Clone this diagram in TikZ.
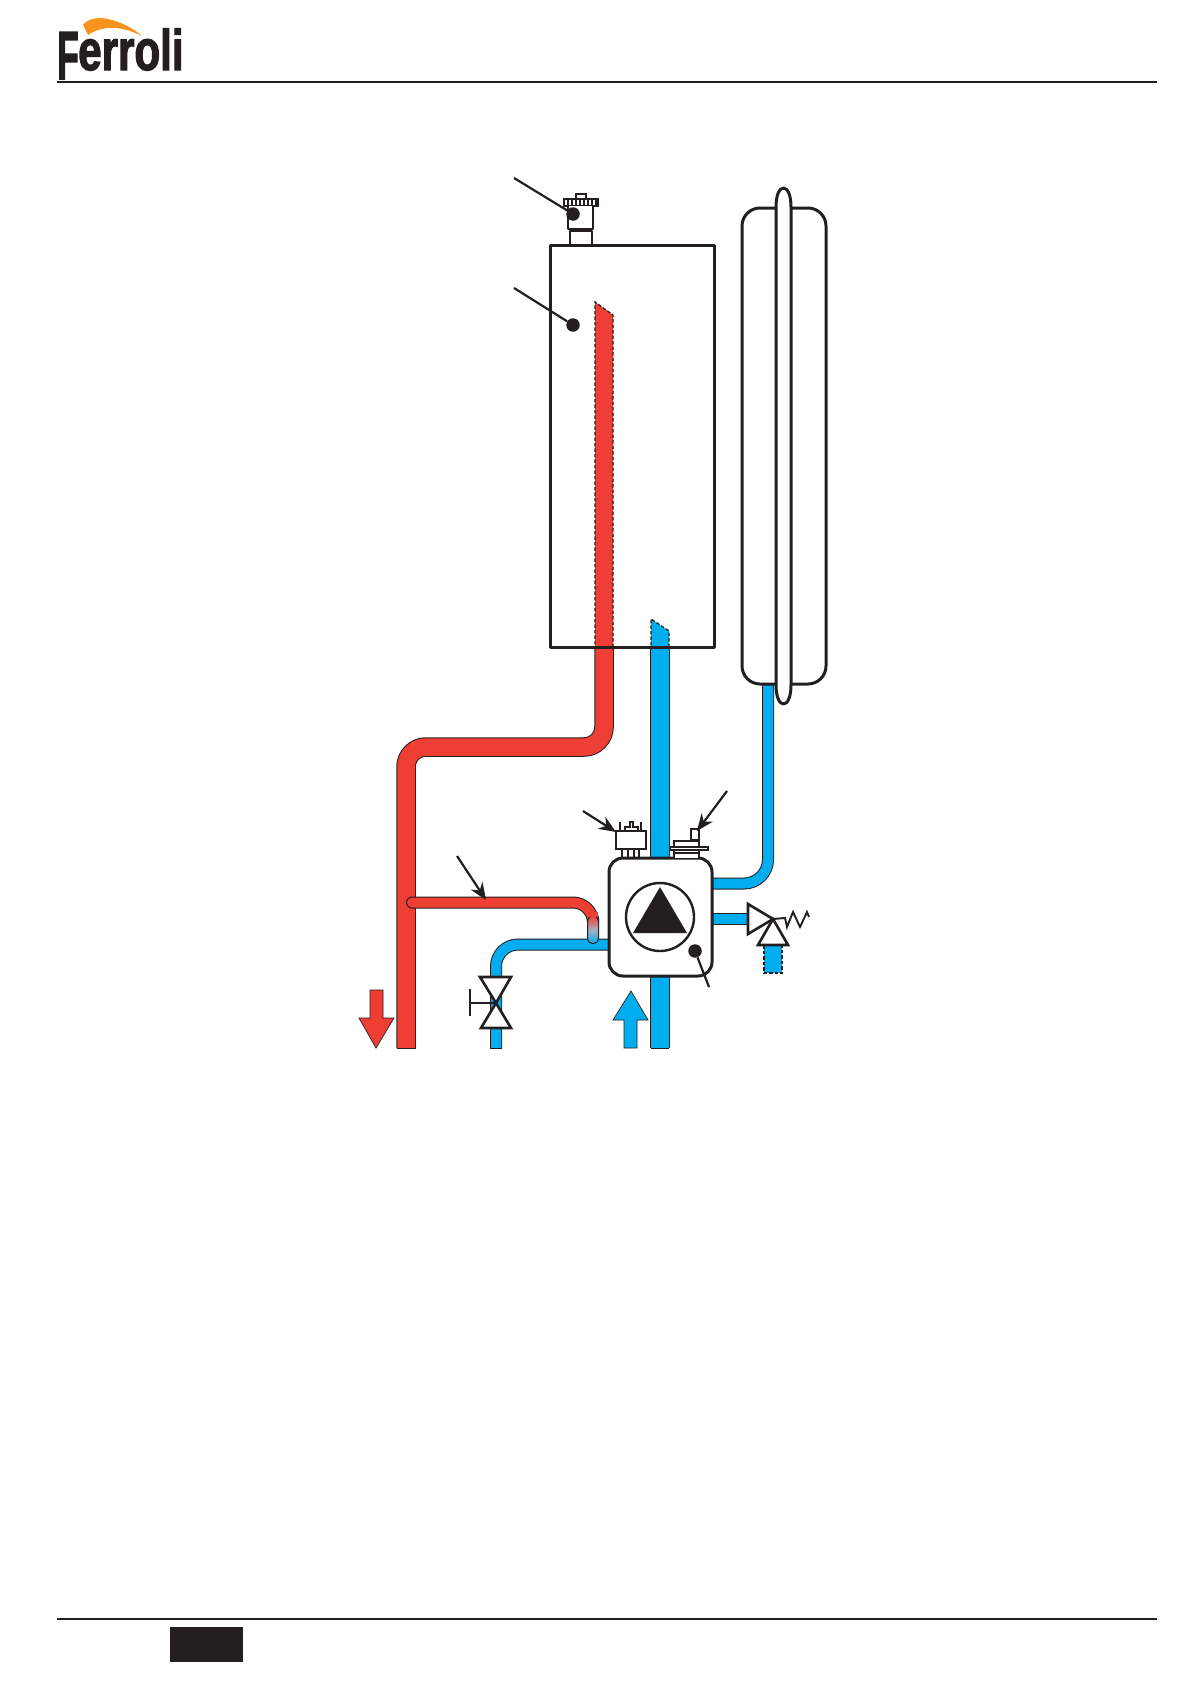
\documentclass[tikz,border=0pt]{standalone}
\usepackage{fontspec}
\setmainfont{Liberation Sans}
\newfontfamily\logofont[BoldFeatures={FakeBold=2.5}]{Liberation Sans}
\usetikzlibrary{arrows.meta}
\definecolor{ink}{HTML}{231F20}
\definecolor{hotred}{HTML}{EF3E33}
\definecolor{coldblue}{HTML}{00AEEF}
\definecolor{logoorange}{HTML}{F7941D}
\tikzset{
  x=1pt,y=-1pt,
  outline/.style={draw=ink,line width=3pt,line join=round},
  thin part/.style={draw=ink,line width=1.3pt},
  rule/.style={draw=ink,line width=2pt},
  hotpipe/.style={draw=ink,line width=1pt,double=hotred},
  coldpipe/.style={draw=ink,line width=1pt,double=coldblue},
  pipeend/.style={draw=ink,line width=1pt},
  dashedge/.style={draw=ink,line width=1.3pt,dash pattern=on 3.5pt off 2pt},
  dotmark/.style={circle,fill=ink,draw=none,minimum size=13.5pt,inner sep=0pt},
  leader/.style={draw=ink,line width=2.2pt},
  callout/.style={draw=ink,line width=2.2pt,-{Stealth[length=17pt,width=14pt]}},
  logotext/.style={inner sep=0pt,text=ink,font=\logofont\bfseries},
  valveshape/.style={draw=ink,fill=white,line width=2.6pt,line join=miter}
}
\begin{document}
\begin{tikzpicture}
\path[use as bounding box,fill=white] (0,0) rectangle (1191,1684);

% --- header / footer
\draw[rule] (57,81.5) -- (1157,81.5);
\draw[rule] (57,1619) -- (1157,1619);
\fill[ink] (170,1627) rectangle (243,1662);
\node[logotext,anchor=base west] (logoF) at (57,79)
  {\scalebox{.52}[1]{\fontsize{68}{68}\selectfont F}};
\node[logotext,anchor=base west] (logoRest) at (78,70)
  {\scalebox{.74}[1]{\fontsize{57}{57}\selectfont erroli}};
\fill[logoorange] (83,25) .. controls (88,18) and (100,17) .. (108,19)
  .. controls (122,22) and (134,29) .. (142,36)
  .. controls (130,30) and (118,27) .. (108,28)
  .. controls (100,29) and (93,31) .. (88,35) -- cycle;

% --- hot main pipe
\fill[hotred] (595,302) -- (613,315) -- (613,647) -- (595,647) -- cycle;
\draw[dashedge] (613,647) -- (613,315) -- (595,302) -- (595,647);
\draw[hotpipe,double distance=17.5pt,rounded corners=20pt]
  (604,647) -- (604,747) -- (406,747) -- (406,1048);
\draw[pipeend] (397,1048) -- (415.5,1048);

% --- cold main pipe
\fill[coldblue] (651,619) -- (669,631) -- (669,647) -- (651,647) -- cycle;
\draw[dashedge] (669,647) -- (669,631) -- (651,619) -- (651,647);
\draw[coldpipe,double distance=17.5pt] (660,647) -- (660,1048);
\draw[pipeend] (651,1048) -- (669,1048);

% --- vessel feed pipe
\draw[coldpipe,double distance=10pt,rounded corners=24pt]
  (768,684) -- (768,883.5) -- (712,883.5);

% --- cold branch to valve
\draw[coldpipe,double distance=10pt,rounded corners=22pt]
  (609,944.5) -- (496,944.5) -- (496,1048);
\draw[pipeend] (490,1048) -- (502,1048);

% --- safety valve outlet pipe
\draw[coldpipe,double distance=10pt] (712,918.5) -- (748,918.5);

% --- hot branch, fading into the cold pipe
\draw[hotpipe,double distance=10pt,line cap=round,rounded corners=20pt]
  (412,902.5) -- (593,902.5) -- (593,918);
\shade[top color=hotred,bottom color=coldblue,middle color=hotred!45!coldblue!60!white,
  draw=ink,line width=1pt,rounded corners=5pt]
  (587.5,916) -- (587.5,943.5) -- (598.5,943.5) -- (598.5,916) -- cycle;
\fill[hotred] (588,912) rectangle (598,917);

% --- boiler
\draw[outline] (550,245) rectangle (714,647);

% --- air vent
\draw[thin part,line width=1.8pt,fill=white] (576,199) -- (576,194) -- (586,194) -- (586,199);
\draw[thin part,line width=1.8pt,fill=white] (564,199) rectangle (598,206);
\foreach \tickx in {568,572,576,580,584,588,592,596}
  \draw[thin part] (\tickx,199) -- (\tickx,206);
\draw[outline,line width=2.2pt,fill=white] (568,206) -- (568,229) -- (593,229) -- (593,206);
\draw[outline,line width=2.2pt,fill=white] (570,231) rectangle (592,245);
\node[dotmark] (ventdot) at (573,214) {};
\coordinate (ventfree) at (514,178);
\draw[leader] (ventfree) -- (ventdot);

\node[dotmark] (boilerdot) at (573,325) {};
\coordinate (boilerfree) at (514,288);
\draw[leader] (boilerfree) -- (boilerdot);

% --- expansion vessel
\draw[outline,rounded corners=18pt] (742,208) rectangle (826,684);
\draw[outline,fill=white] (776,685) -- (776,207)
  .. controls (776,196) and (779,188) .. (783.5,188)
  .. controls (788,188) and (791,196) .. (791,207)
  -- (791,685)
  .. controls (791,696) and (788,704) .. (783.5,704)
  .. controls (779,704) and (776,696) .. (776,685) -- cycle;

% --- pump
\draw[outline,fill=white,rounded corners=14pt] (609,858) rectangle (712,976);
\node[circle,draw=ink,line width=2.4pt,minimum size=68pt,inner sep=0pt] (pumpcircle) at (660,917) {};
\fill[ink] (660,887) -- (687,933) -- (633,933) -- cycle;
\node[dotmark] (pumpdot) at (695,951) {};
\coordinate (pumpfree) at (709,987);
\draw[leader] (pumpfree) -- (pumpdot);

% --- pressure switch (left device)
\draw[thin part,fill=white] (616,831) rectangle (646,849);
\draw[thin part] (620,822) -- (620,831) (641,822) -- (641,831);
\draw[thin part] (625,831) -- (625,827) -- (630,827) -- (630,822) -- (633,822) -- (633,827) -- (638,827) -- (638,831);
\draw[thin part] (622,849) -- (622,858) (628,849) -- (628,858) (634,849) -- (634,858) (639,849) -- (639,858);
\coordinate (switchfree) at (583,811);
\coordinate (switchtip) at (616,832);
\draw[callout] (switchfree) -- (switchtip);

% --- gauge (right device)
\draw[thin part,fill=white] (674,858) -- (674,841) -- (699,841) -- (699,858);
\draw[thin part,fill=white] (670,847) rectangle (708,850);
\draw[thin part] (674,853) -- (699,853);
\draw[thin part,fill=white] (691,829) rectangle (699,840);
\coordinate (gaugefree) at (727,791);
\coordinate (gaugetip) at (697,831);
\draw[callout] (gaugefree) -- (gaugetip);

% --- hot branch callout
\coordinate (branchfree) at (457,856);
\coordinate (branchtip) at (486,900);
\draw[callout] (branchfree) -- (branchtip);

% --- isolating valve
\draw[valveshape] (480,977) -- (511,977) -- (496,1003) -- cycle;
\draw[valveshape] (481,1028) -- (511,1028) -- (496,1003) -- cycle;
\draw[draw=ink,line width=2.4pt] (470,1003) -- (496,1003);
\draw[draw=ink,line width=2.8pt] (470,989) -- (470,1016);

% --- safety valve
\fill[coldblue] (764,945) rectangle (782,973);
\draw[dashedge] (764,945) -- (764,973) -- (782,973) -- (782,945);
\draw[valveshape] (748,904) -- (773,919) -- (748,934) -- cycle;
\draw[valveshape] (773,919) -- (788,945) -- (758,945) -- cycle;
\draw[draw=ink,line width=1.9pt,line join=miter]
  (773,919) -- (785,918) -- (787,927) -- (793,912) -- (800,927) -- (807,912) -- (809,917);

% --- flow arrows
\draw[draw=ink,line width=.7pt,fill=coldblue] (631,991) -- (648,1020) -- (637,1020) -- (637,1048)
  -- (624,1048) -- (624,1020) -- (613,1020) -- cycle;
\draw[draw=ink,line width=.7pt,fill=hotred] (370,990) -- (383,990) -- (383,1018) -- (394,1018)
  -- (376,1048) -- (359,1018) -- (370,1018) -- cycle;
\end{tikzpicture}
\end{document}
